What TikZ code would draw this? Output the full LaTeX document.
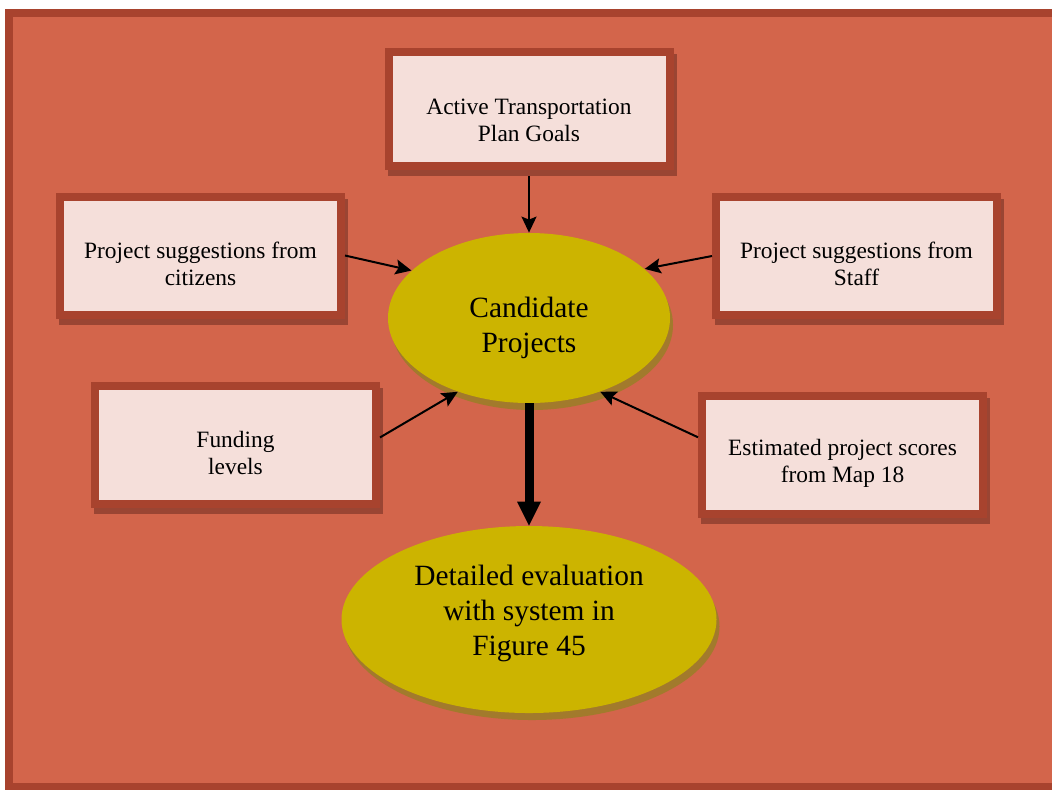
\documentclass[tikz,border=0pt]{standalone}
\usepackage{fontspec}
\setmainfont{Liberation Serif}
\usepackage{tikz}
\usetikzlibrary{arrows.meta,positioning,shapes.geometric,shadows}

\definecolor{framered}{HTML}{A8432E}
\definecolor{bgred}{HTML}{D3654B}
\definecolor{boxpink}{HTML}{F5DFDA}
\definecolor{mustard}{HTML}{CCB400}
\definecolor{boxshadow}{HTML}{9A4533}
\definecolor{ovalshadow}{HTML}{A27A2C}

\begin{document}
\begin{tikzpicture}[x=0.5pt,y=-0.5pt,
  box/.style={rectangle,draw=framered,line width=4pt,fill=boxpink,
    minimum width=140.5pt,minimum height=59pt,inner sep=0pt,
    drop shadow={shadow xshift=1.5pt,shadow yshift=-3pt,fill=boxshadow,
      draw=boxshadow,line width=4pt,opacity=1}},
  oval/.style={ellipse,fill=mustard,inner sep=0pt,
    drop shadow={shadow xshift=1.5pt,shadow yshift=-3.5pt,fill=ovalshadow,opacity=1}},
  boxtxt/.style={align=center,font=\fontsize{11.7}{13.5}\selectfont,yshift=-4pt},
  ovaltxt/.style={align=center,font=\fontsize{14.7}{17.5}\selectfont},
  thin/.style={line width=1pt,-{Stealth[length=8pt,width=7.5pt,inset=1.5pt]}},
  thick/.style={line width=4.5pt,-{Triangle[length=12pt,width=12pt,line width=0pt]}}]
 \clip (0,0) rectangle (1052,789);
 \fill[white] (0,0) rectangle (1052,789);
 % ---- frame ----
 \draw[framered,line width=4pt,fill=bgred] (9,13) rectangle (1070,787);
 % ---- inputs ----
 \node[box,minimum height=57pt] (goals) at (529,109) {};
 \node[boxtxt,yshift=-1.5pt] at (goals.center) {Active Transportation\\Plan Goals};
 \node[box] (cit) at (200.5,255.5) {};
 \node[boxtxt] at (cit.center) {Project suggestions from\\citizens};
 \node[box] (staff) at (856.5,256) {};
 \node[boxtxt] at (staff.center) {Project suggestions from\\Staff};
 \node[box] (fund) at (235.5,445) {};
 \node[boxtxt] at (fund.center) {Funding\\levels};
 \node[box] (est) at (842.5,455) {};
 \node[boxtxt] at (est.center) {Estimated project scores\\from Map 18};
 % ---- candidates and evaluation ----
 \node[oval,minimum width=141pt,minimum height=85pt] (cand) at (529,318) {};
 \node[ovaltxt,yshift=-5pt] at (cand.center) {Candidate\\Projects};
 \node[oval,minimum width=187.5pt,minimum height=93.5pt] (eval) at (529,619.5) {};
 \node[ovaltxt,yshift=3pt] at (eval.center) {Detailed evaluation\\with system in\\Figure 45};
 % ---- arrows ----
 \draw[thin,shorten <=3pt] (goals.south) -- (cand.north);
 \draw[thin] (cit.east) -- (cand.158);
 \draw[thin] (staff.west) -- (cand.23);
 \draw[thin] (fund.3) -- (cand.226);
 \draw[thin] (est.173) -- (cand.314);
 \draw[thick] (cand.south) -- (eval.north);
\end{tikzpicture}
\end{document}
